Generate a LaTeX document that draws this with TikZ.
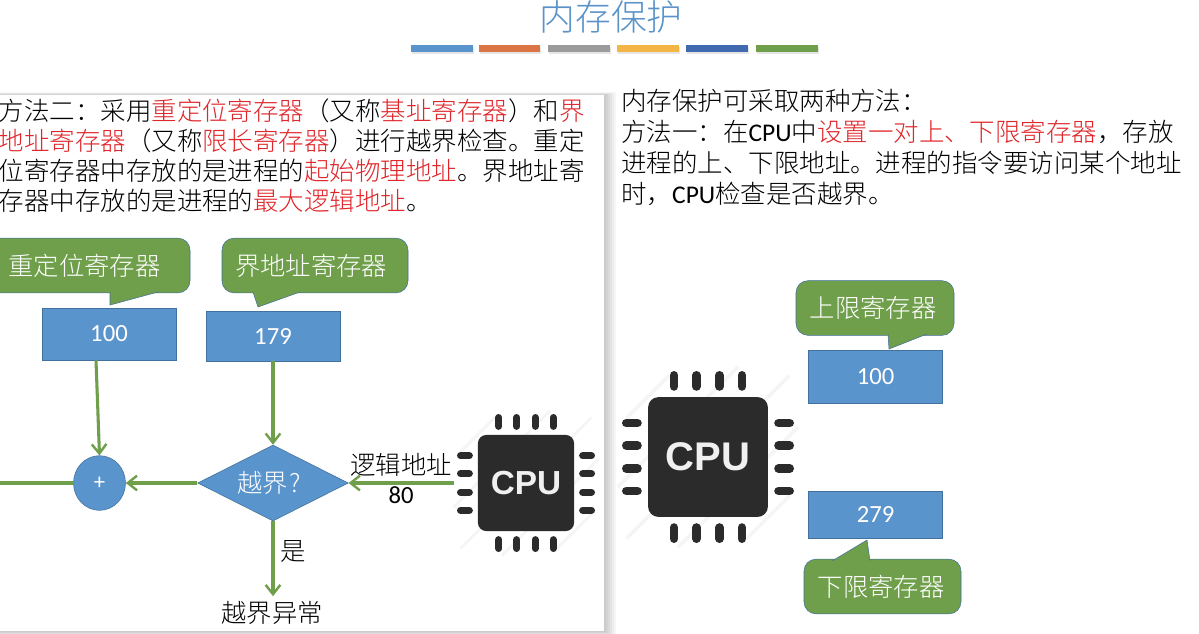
\documentclass[tikz,border=0pt]{standalone}
\usepackage{fontspec}
\setmainfont{Noto Sans CJK SC Light}
\newfontfamily\latinfont{Carlito}
\newfontfamily\chipfont{Liberation Sans}
\usetikzlibrary{positioning,arrows.meta,shapes.geometric,shadows}
\definecolor{slideblue}{HTML}{5A94CC}
\definecolor{slideedge}{HTML}{41719C}
\definecolor{slidegreen}{HTML}{6F9F4A}
\definecolor{hotred}{HTML}{E0262B}
\definecolor{titleblue}{HTML}{5B93C9}
\definecolor{barorange}{HTML}{DC7545}
\definecolor{bargray}{HTML}{9B9B9B}
\definecolor{baryellow}{HTML}{F4B547}
\definecolor{bardeep}{HTML}{4169B0}
\newcommand{\hot}[1]{\textcolor{hotred}{#1}}
% name, centre x, centre y, half size, font size
\newcommand{\chip}[5]{
  \foreach \d/\a in {-.7/.25,-.35/.7,0/.95,.35/.7,.7/.25}
    \draw[black!4,line width={.03*#4}] ({#2+(\d-\a)*#4},{#3+(\d+\a)*#4}) -- ({#2+(\d+\a)*#4},{#3+(\d-\a)*#4});
  \foreach \k in {-.395,-.134,.134,.395} {
    \draw[chippin,line width={.075*#4}] ({#2+\k*#4},{#3-.82*#4}) -- ({#2+\k*#4},{#3-.95*#4});
    \draw[chippin,line width={.075*#4}] ({#2+\k*#4},{#3+.82*#4}) -- ({#2+\k*#4},{#3+.95*#4});
    \draw[chippin,line width={.075*#4}] ({#2-.82*#4},{#3+\k*#4}) -- ({#2-.95*#4},{#3+\k*#4});
    \draw[chippin,line width={.075*#4}] ({#2+.82*#4},{#3+\k*#4}) -- ({#2+.95*#4},{#3+\k*#4});
  }
  \node[minimum size={1.55*#4},inner sep=0] (#1) at (#2,#3) {};
  \node[fill=black!83,rounded corners={.09*#4},minimum size={1.05*.995*#4},inner sep=0,text=white!94!black,
    font=\chipfont\bfseries\fontsize{#5}{#5}\selectfont] (#1body) at (#2,#3) {CPU};
}
\begin{document}
\begin{tikzpicture}[x=0.75pt,y=-0.75pt,
  regbox/.style={draw=slideedge,fill=slideblue,text=white,minimum width=100.5pt,inner sep=0,
    font=\latinfont\fontsize{18.5}{20}\selectfont},
  bubble/.style={draw=slideedge,fill=slidegreen,text=white,rounded corners=9pt,inner sep=0,minimum height=41pt,
    font=\fontsize{19}{20}\selectfont},
  bubbletail/.style={draw=slideedge,fill=slidegreen},
  arr/.style={-{Straight Barb[length=7pt,width=11pt,line width=1.8pt]},draw=slidegreen,line width=2.3pt},
  lbl/.style={inner sep=0,font=\fontsize{19}{22}\selectfont},
  chippin/.style={black!83,line cap=round},
  bar/.style={minimum height=5.25pt,inner sep=0,drop shadow={shadow xshift=.6pt,shadow yshift=-1.8pt,opacity=.2}}]
  \clip (0,0) rectangle (1199,633);
  \fill[white] (0,0) rectangle (1199,633);

  \node[text=titleblue,inner sep=0,font=\fontsize{26.8}{30}\selectfont] (title) at (611,17) {内存保护};
  \node[bar,fill=slideblue,minimum width=46.5pt] (bara) at (442,48.5) {};
  \node[bar,fill=barorange,minimum width=45.75pt] (barb) at (509.5,48.5) {};
  \node[bar,fill=bargray,minimum width=46.5pt] (barc) at (579,48.5) {};
  \node[bar,fill=baryellow,minimum width=46.5pt] (bard) at (648,48.5) {};
  \node[bar,fill=bardeep,minimum width=46.5pt] (bare) at (717,48.5) {};
  \node[bar,fill=slidegreen,minimum width=46.5pt] (barf) at (787,48.5) {};

  \foreach \g in {1,...,6}
    \fill[black,opacity=.035] (-20,{95-.5*\g}) rectangle ({604+2*\g},{631+\g});
  \node[fill=white,minimum width=468pt,minimum height=402pt,inner sep=0] (panel) at (292,363) {};

  \node[anchor=north west,inner sep=0,align=left,font=\fontsize{19.1}{22.5}\selectfont] (methodtwo) at (-1.5,99) {
    方法二：采用\hot{重定位寄存器}（又称\hot{基址寄存器}）和\hot{界}\\
    \hot{地址寄存器}（又称\hot{限长寄存器}）进行越界检查。重定\\
    位寄存器中存放的是进程的\hot{起始物理地址}。界地址寄\\
    存器中存放的是进程的\hot{最大逻辑地址}。};
  \node[anchor=north west,inner sep=0,align=left,font=\fontsize{19.1}{23.25}\selectfont] (methodone) at (621,89) {
    内存保护可采取两种方法：\\
    方法一：在{\latinfont CPU}中\hot{设置一对上、下限寄存器}，存放\\
    进程的上、下限地址。进程的指令要访问某个地址\\
    时，{\latinfont CPU}检查是否越界。};

  \node[bubble,minimum width=157.5pt] (tagbase) at (85,265.5) {重定位寄存器\kern1pt};
  \filldraw[bubbletail] (110,292) -- (110,305) -- (158,292);
  \node[bubble,minimum width=139.5pt] (taglimit) at (315,265.5) {界地址寄存器\kern6pt};
  \filldraw[bubbletail] (253,292) -- (258,307) -- (300,292);

  \node[regbox,minimum height=39pt] (regbase) at (109,334) {100};
  \node[regbox,minimum height=37.5pt] (reglimit) at (273,336) {179};

  \node[draw=slideedge,fill=slideblue,ellipse,text=white,minimum width=39pt,minimum height=41pt,inner sep=0,
    font=\latinfont\fontsize{17}{18}\selectfont] (plus) at (99.5,483) {+};
  \node[draw=slideedge,fill=slideblue,diamond,aspect=2,text=white,minimum width=113pt,minimum height=57pt,inner sep=0,
    font=\fontsize{19}{20}\selectfont] (check) at (273,483) {越界\kern1pt?\kern6pt};
  \node[lbl] (fault) at (272,613) {越界异常};
  \chip{cpuleft}{526}{483}{69}{25}
  \coordinate (leftend) at (-10,483);

  \draw[arr] ([xshift=-9.75pt]regbase.south) -- (plus.north);
  \draw[arr] (reglimit.south) -- (check.north);
  \draw[arr] (cpuleft.west) -- (check.east);
  \draw[arr] (check.west) -- (plus.east);
  \draw[arr,-] (plus.west) -- (leftend);
  \draw[arr,shorten >=3.75pt] (check.south) -- (check.south |- fault.north);
  \node[lbl] (yes) at (293,551) {是};
  \node[lbl] (addr) at (401,465) {逻辑地址};
  \node[lbl,font=\latinfont\fontsize{18.5}{20}\selectfont] (addrval) at (401,495) {80};

  \chip{cpuright}{708}{457}{86}{30}
  \node[bubble,minimum width=118.5pt] (tagupper) at (875,308) {上限寄存器\kern3pt};
  \filldraw[bubbletail] (888,334) -- (889,349) -- (927,334);
  \node[regbox,minimum height=39.75pt] (regupper) at (875.5,376.5) {100};
  \node[regbox,minimum height=35.25pt] (reglower) at (875.5,514.5) {279};
  \node[bubble,minimum width=117.75pt] (taglower) at (882.5,586.5) {下限寄存器\kern2pt};
  \filldraw[bubbletail] (832,561) -- (867,540) -- (870,561);
\end{tikzpicture}
\end{document}
